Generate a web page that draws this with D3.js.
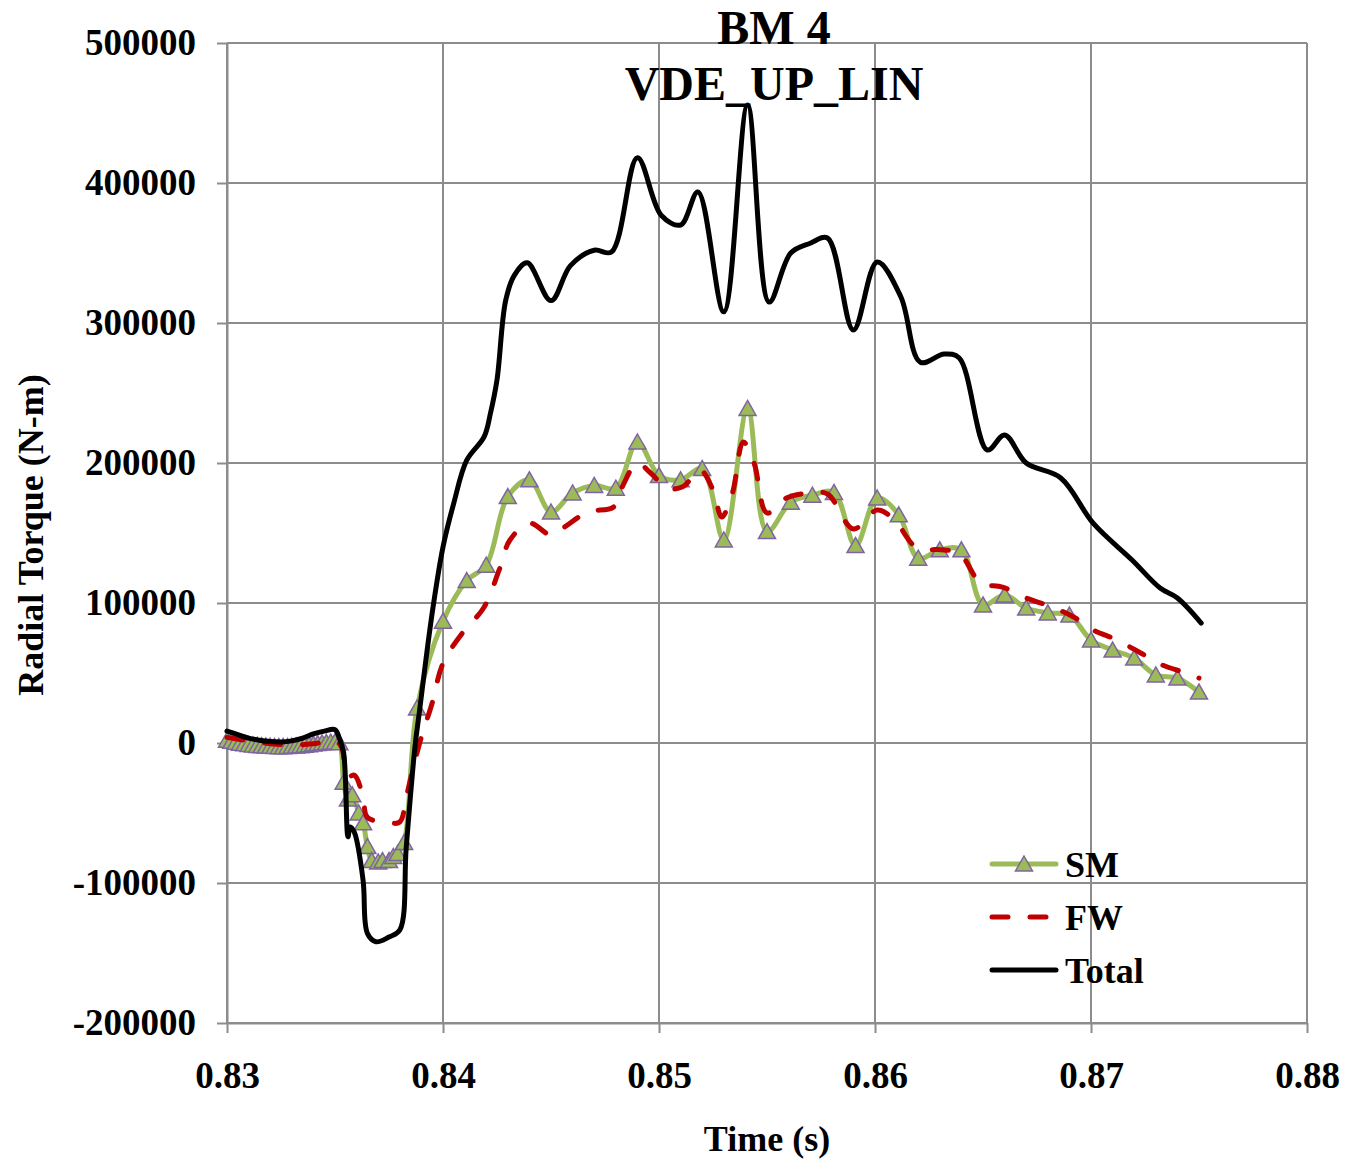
<!DOCTYPE html>
<html>
<head>
<meta charset="utf-8">
<script src="https://cdn.jsdelivr.net/npm/d3@7"></script>
<style>
  body { margin: 0; background: #fff; }
  text { font-family: "Liberation Serif", "Times New Roman", serif; font-weight: bold; fill: #000; }
</style>
</head>
<body>
<svg id="chart" width="1345" height="1160"></svg>
<script>
// SM (smoothed line with triangle markers)
var smTime = [0.8300,0.8302,0.8304,0.8306,0.8308,0.8310,0.8312,0.8314,0.8316,0.8318,0.8320,0.8322,0.8324,0.8326,0.8328,
  0.8330,0.8332,0.8334,0.8336,0.8338,0.8340,0.8342,0.8344,0.8346,0.8348,0.8350,0.8352,
  0.8354,0.8356,0.8358,0.8361,0.8363,0.8365,0.8367,0.8370,0.8372,0.8375,0.8377,0.8379,0.8382,
  0.8388,0.8400,0.8411,0.8420,0.8430,0.8440,0.8450,0.8460,0.8470,0.8480,0.8490,0.8500,0.8510,0.8520,
  0.8530,0.8541,0.8550,0.8561,0.8571,0.8581,0.8591,0.8601,0.8611,0.8620,0.8630,0.8640,0.8650,0.8660,
  0.8670,0.8680,0.8690,0.8700,0.8710,0.8720,0.8730,0.8740,0.8750];
var smVal = [2000,1200,500,-100,-600,-1000,-1400,-1700,-2000,-2200,-2400,-2500,-2600,-2600,-2500,
  -2400,-2200,-1900,-1600,-1200,-800,-400,0,300,600,800,200,
  -28000,-40000,-37000,-50000,-57000,-74000,-84000,-85000,-84000,-84000,-81000,-79000,-71000,
  25000,87000,116000,127000,176000,188000,165000,178600,184000,182000,215000,191000,188000,196000,
  145000,239000,151000,172000,177000,179000,141000,175000,163000,132000,138000,138000,98600,105700,
  96400,92900,91400,73600,66400,60700,48600,46400,36400];

// FW (dashed red)
var fwTime = [0.8300,0.8310,0.8320,0.8330,0.8340,0.8350,0.8353,0.8356,0.8359,0.8363,0.8365,0.8375,0.8380,0.8383,0.8386,
  0.8390,0.8395,0.8400,0.8409,0.8419,0.8426,0.8431,0.8440,0.8450,0.8456,0.8467,0.8479,0.8483,0.8490,0.8496,
  0.8504,0.8511,0.8519,0.8525,0.8529,0.8534,0.8539,0.8544,0.8550,0.8559,0.8570,0.8578,0.8590,0.8601,0.8609,
  0.8619,0.8632,0.8639,0.8649,0.8659,0.8670,0.8682,0.8692,0.8701,0.8712,0.8723,0.8733,0.8744,0.8750];
var fwVal = [4000,1500,-500,-1500,-500,1500,-3000,-24000,-23000,-38600,-53000,-57000,-56400,-38600,-19000,
  4300,28600,57000,78600,97000,123600,145000,157000,148600,154000,165000,168600,183000,200000,193000,
  182000,183000,195000,180700,161400,178600,215000,200000,164300,175000,178600,177900,152900,166400,159300,
  140000,137900,135700,114300,111400,103600,97100,90000,80700,73600,64300,55700,50000,46400];

// Total (solid black)
var totTime = [0.8300,0.8305,0.8310,0.8315,0.8320,0.8325,0.8330,0.8335,0.8340,0.8345,0.8350,0.8352,0.8354,0.8356,0.8357,
  0.8359,0.8363,0.8365,0.8369,0.8375,0.8380,0.8383,0.8387,0.8389,0.8395,0.8400,0.8405,0.8411,0.8419,0.8422,
  0.8425,0.8429,0.8433,0.8439,0.8450,0.8459,0.8470,0.8478,0.8490,0.8501,0.8510,0.8518,0.8530,0.8541,0.8551,
  0.8561,0.8570,0.8578,0.8590,0.8601,0.8612,0.8621,0.8632,0.8639,0.8652,0.8660,0.8670,0.8686,0.8701,0.8719,
  0.8732,0.8740,0.8751];
var totVal = [8500,6000,3500,2000,1000,700,1500,3500,6500,8500,9500,3500,-7000,-67000,-60000,
  -64000,-98000,-136000,-142000,-138600,-133600,-74000,-3000,21400,92900,140000,171400,202000,218600,235700,
  259300,316000,334000,343000,316000,341000,352000,350700,418000,377000,370000,393600,308000,455700,315000,
  350000,357000,360700,295000,343600,318600,272000,277800,275000,209300,220000,200000,189300,157000,130700,
  110700,103600,85700];

var xTicks = [0.83,0.84,0.85,0.86,0.87,0.88];
var yTicks = [-200000,-100000,0,100000,200000,300000,400000,500000];
var titleLines = ["BM 4","VDE_UP_LIN"];
var legendNames = ["SM","FW","Total"];

var svg = d3.select("#chart");
var x = d3.scaleLinear().domain([0.83, 0.88]).range([227, 1307]);
var y = d3.scaleLinear().domain([-200000, 500000]).range([1023, 43]);
var grid = "#8c8c8c";

// grid lines
svg.append("g").selectAll("line").data(yTicks).enter().append("line")
  .attr("x1", x(0.83)).attr("x2", x(0.88))
  .attr("y1", d => y(d)).attr("y2", d => y(d))
  .attr("stroke", grid).attr("stroke-width", 2);
svg.append("g").selectAll("line").data(xTicks).enter().append("line")
  .attr("x1", d => x(d)).attr("x2", d => x(d))
  .attr("y1", y(500000)).attr("y2", y(-200000))
  .attr("stroke", grid).attr("stroke-width", 2);

// axes (plain hyphen for negatives, like the original)
var yAxis = svg.append("g").attr("transform", "translate(" + x(0.83) + ",0)")
  .call(d3.axisLeft(y).tickValues(yTicks).tickSize(10).tickSizeOuter(0).tickPadding(21).tickFormat(d => String(d)));
var xAxis = svg.append("g").attr("transform", "translate(0," + y(-200000) + ")")
  .call(d3.axisBottom(x).tickValues(xTicks).tickSize(10).tickSizeOuter(0).tickPadding(29).tickFormat(d => d.toFixed(2)));
[yAxis, xAxis].forEach(function(a) {
  a.select(".domain").attr("stroke", grid).attr("stroke-width", 2);
  a.selectAll(".tick line").attr("stroke", grid).attr("stroke-width", 2);
  a.selectAll("text").attr("font-size", 37).attr("fill", "#000")
    .attr("font-family", '"Liberation Serif", "Times New Roman", serif').attr("font-weight", "bold");
});

// series
var line = d3.line().x(d => x(d[0])).y(d => y(d[1])).curve(d3.curveCatmullRom.alpha(0.5));
var sm = smTime.map((t, i) => [t, smVal[i]]);
var fw = fwTime.map((t, i) => [t, fwVal[i]]);
var tot = totTime.map((t, i) => [t, totVal[i]]);

var tri = "M0,-8L8.5,7L-8.5,7Z";

svg.append("path").attr("d", line(sm)).attr("fill", "none")
  .attr("stroke", "#9bbb59").attr("stroke-width", 5).attr("stroke-linejoin", "round");
svg.append("g").selectAll("path").data(sm).enter().append("path")
  .attr("d", tri)
  .attr("transform", d => "translate(" + x(d[0]) + "," + y(d[1]) + ")")
  .attr("fill", "#9bbb59").attr("stroke", "#8064a2").attr("stroke-width", 1.5);

svg.append("path").attr("d", line(fw)).attr("fill", "none")
  .attr("stroke", "#c00000").attr("stroke-width", 5)
  .attr("stroke-dasharray", "16,22").attr("stroke-linecap", "round");

svg.append("path").attr("d", line(tot)).attr("fill", "none")
  .attr("stroke", "#000").attr("stroke-width", 5).attr("stroke-linejoin", "round").attr("stroke-linecap", "round");

// title
svg.append("g").selectAll("text").data(titleLines).enter().append("text")
  .attr("x", 774).attr("y", (d, i) => 44 + i * 56)
  .attr("text-anchor", "middle").attr("font-size", 48).text(d => d);

// axis titles
svg.append("text").attr("x", 767).attr("y", 1151).attr("text-anchor", "middle")
  .attr("font-size", 36).text("Time (s)");
svg.append("text").attr("transform", "translate(43,535) rotate(-90)").attr("text-anchor", "middle")
  .attr("font-size", 36).text("Radial Torque (N-m)");

// legend
var leg = svg.append("g");
legendNames.forEach(function(name, i) {
  var ly = 864 + i * 53;
  var l = leg.append("line").attr("x1", 992).attr("x2", 1056).attr("y1", ly).attr("y2", ly)
    .attr("stroke-width", 5).attr("stroke-linecap", "round");
  if (name === "SM") {
    l.attr("stroke", "#9bbb59");
    leg.append("path").attr("d", tri).attr("transform", "translate(1024," + ly + ")")
      .attr("fill", "#9bbb59").attr("stroke", "#8064a2").attr("stroke-width", 1.5);
  } else if (name === "FW") {
    l.attr("stroke", "#c00000").attr("stroke-dasharray", "16,22");
  } else {
    l.attr("stroke", "#000");
  }
  leg.append("text").attr("x", 1065).attr("y", ly + 13).attr("font-size", 36).text(name);
});
</script>
</body>
</html>
